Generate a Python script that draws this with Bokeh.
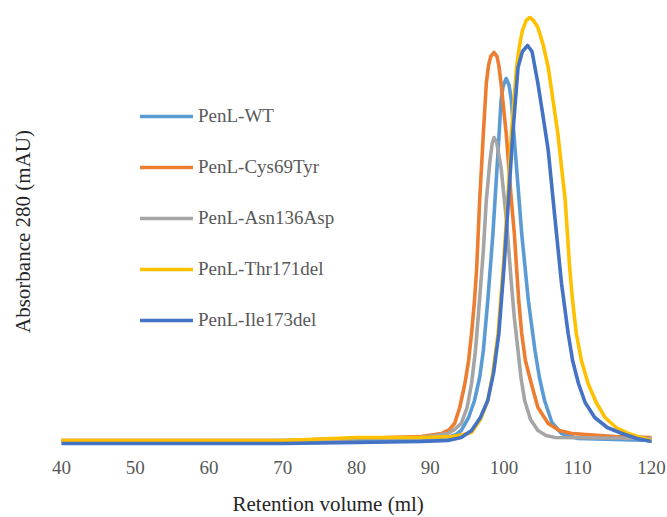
from bokeh.plotting import figure
from bokeh.models import Range1d, Legend, LegendItem, Title, FixedTicker
from bokeh.embed import file_html
from bokeh.resources import INLINE

# Size-exclusion chromatograms, absorbance at 280 nm vs retention volume (ml)
wt_vol = [40, 50, 60, 66, 70, 80, 88.8, 92.4, 93.5, 94.2, 95.2, 96.0, 96.7, 97.2, 97.8, 98.5, 99.2, 99.6, 99.9,
          100.3, 100.7, 101.0, 101.3, 101.7, 102.4, 103.3, 104.2, 104.8, 105.5, 106.5, 107.8, 110, 120]
wt_abs = [11, 11, 11, 11, 11, 12, 13, 15, 18, 22, 35, 52, 75, 102, 152, 219, 302, 352, 367,
          374, 367, 352, 322, 285, 219, 152, 102, 75, 52, 30, 19, 14, 12]

cys_vol = [40, 50, 60, 66, 70, 80, 88.8, 91.5, 92.6, 93.3, 94.0, 94.7, 95.2, 95.6, 96.0, 96.3, 96.7, 97.2, 97.6, 97.9, 98.2,
           98.65, 99.05, 99.3, 99.6, 100.3, 101.0, 101.4, 101.7, 102.0, 102.4, 102.9, 103.7, 104.6, 106.0, 107.5, 109.2, 115, 120]
cys_abs = [12, 12, 12, 12, 12, 14, 16, 19, 23, 29, 45, 69, 92, 119, 152, 185, 252, 319, 369, 387, 396,
           400, 396, 387, 369, 319, 252, 219, 185, 152, 119, 92, 69, 45, 29, 22, 19, 16, 15]

asn_vol = [40, 50, 60, 66, 70, 80, 88.8, 92.4, 93.3, 94.2, 95.0, 95.6, 96.1, 96.5, 97.2, 97.6, 98.1, 98.4,
           98.65, 99.0, 99.6, 100.3, 101.0, 101.4, 101.9, 102.3, 102.8, 103.6, 104.6, 105.7, 106.9, 120]
asn_abs = [12, 12, 12, 12, 12, 14, 15, 19, 23, 29, 45, 69, 100, 135, 202, 252, 292, 309,
           315, 310, 285, 235, 169, 135, 102, 75, 52, 33, 22, 17, 15, 14]

thr_vol = [40, 50, 60, 66, 70, 80, 88.8, 93.0, 94.5, 95.6, 96.8, 97.8, 98.5, 99.2, 99.9, 100.5, 101.0, 101.7, 102.1, 102.5, 103.0,
           103.5, 104.0, 104.6, 105.3, 106.0, 107.3, 108.3, 108.9, 109.3, 109.8, 110.5, 111.4, 112.5, 113.7, 115.2, 116.9, 118.5, 120]
thr_abs = [12, 12, 12, 12, 12, 15, 15, 16, 18, 20, 33, 52, 80, 119, 185, 252, 319, 385, 407, 422, 432,
           435, 432, 425, 408, 385, 319, 252, 185, 152, 119, 92, 69, 50, 35, 25, 19, 15, 12]

ile_vol = [40, 50, 60, 66, 70, 80, 88.8, 92.4, 94.2, 95.6, 96.8, 97.8, 98.6, 99.3, 100.0, 100.6, 101.2, 101.9, 102.5,
           103.2, 103.8, 104.6, 105.3, 106.0, 106.9, 107.8, 108.7, 109.3, 110.1, 111.0, 112.3, 114.0, 116.0, 118, 120]
ile_abs = [9, 9, 9, 9, 9, 10, 11, 12, 15, 22, 35, 52, 80, 119, 185, 252, 319, 385, 401,
           407, 401, 369, 336, 302, 235, 169, 119, 92, 69, 50, 35, 25, 19, 14, 11]

series_names = ["PenL-WT", "PenL-Cys69Tyr", "PenL-Asn136Asp", "PenL-Thr171del", "PenL-Ile173del"]
series_colors = ["#5B9BD5", "#ED7D31", "#A5A5A5", "#FFC000", "#4472C4"]
x_ticks = [40, 50, 60, 70, 80, 90, 100, 110, 120]

FONT = "Liberation Serif"

p = figure(width=667, height=517, output_backend="svg", toolbar_location=None,
           x_range=Range1d(40, 120), y_range=Range1d(0, 442),
           min_border_left=61, min_border_right=16, min_border_top=10, min_border_bottom=65)
p.outline_line_color = None
p.xgrid.visible = False
p.ygrid.visible = False

# x axis: labels only, no line or ticks
p.xaxis.ticker = FixedTicker(ticks=x_ticks)
p.xaxis.axis_line_color = None
p.xaxis.major_tick_line_color = None
p.xaxis.minor_tick_line_color = None
p.xaxis.major_tick_out = 0
p.xaxis.major_tick_in = 0
p.xaxis.major_label_standoff = 8
p.xaxis.major_label_text_font = FONT
p.xaxis.major_label_text_font_size = "19px"
p.xaxis.major_label_text_color = "#595959"

# y axis: title only
p.yaxis.ticker = FixedTicker(ticks=[])
p.yaxis.axis_line_color = None
p.yaxis.major_tick_line_color = None
p.yaxis.minor_tick_line_color = None
p.yaxis.major_tick_out = 0
p.yaxis.axis_label = "Absorbance 280 (mAU)"
p.yaxis.axis_label_text_font = FONT
p.yaxis.axis_label_text_font_size = "21px"
p.yaxis.axis_label_text_font_style = "normal"
p.yaxis.axis_label_text_color = "#262626"
p.yaxis.axis_label_standoff = 27

# thin blank band between the tick labels and the x-axis title
p.add_layout(Title(text=" ", text_font_size="1px", standoff=10), "below")
p.add_layout(Title(text="Retention volume (ml)", align="left", offset=171,
                   text_font=FONT, text_font_size="21px", text_font_style="normal",
                   text_color="#262626", standoff=0), "below")

data = [(wt_vol, wt_abs), (cys_vol, cys_abs), (asn_vol, asn_abs), (thr_vol, thr_abs), (ile_vol, ile_abs)]
items = []
for (vx, vy), name, color in zip(data, series_names, series_colors):
    r = p.line(vx, vy, line_color=color, line_width=3.6, line_join="round", line_cap="round")
    items.append(LegendItem(label=name, renderers=[r]))

legend = Legend(items=items, location=(79, 121), orientation="vertical",
                glyph_width=53, glyph_height=22, label_height=22, spacing=29,
                label_standoff=5, padding=0, margin=0,
                border_line_color=None, background_fill_alpha=0,
                label_text_font=FONT, label_text_font_size="19px", label_text_color="#595959")
p.add_layout(legend)

open("out.html", "w").write(file_html(p, INLINE))
